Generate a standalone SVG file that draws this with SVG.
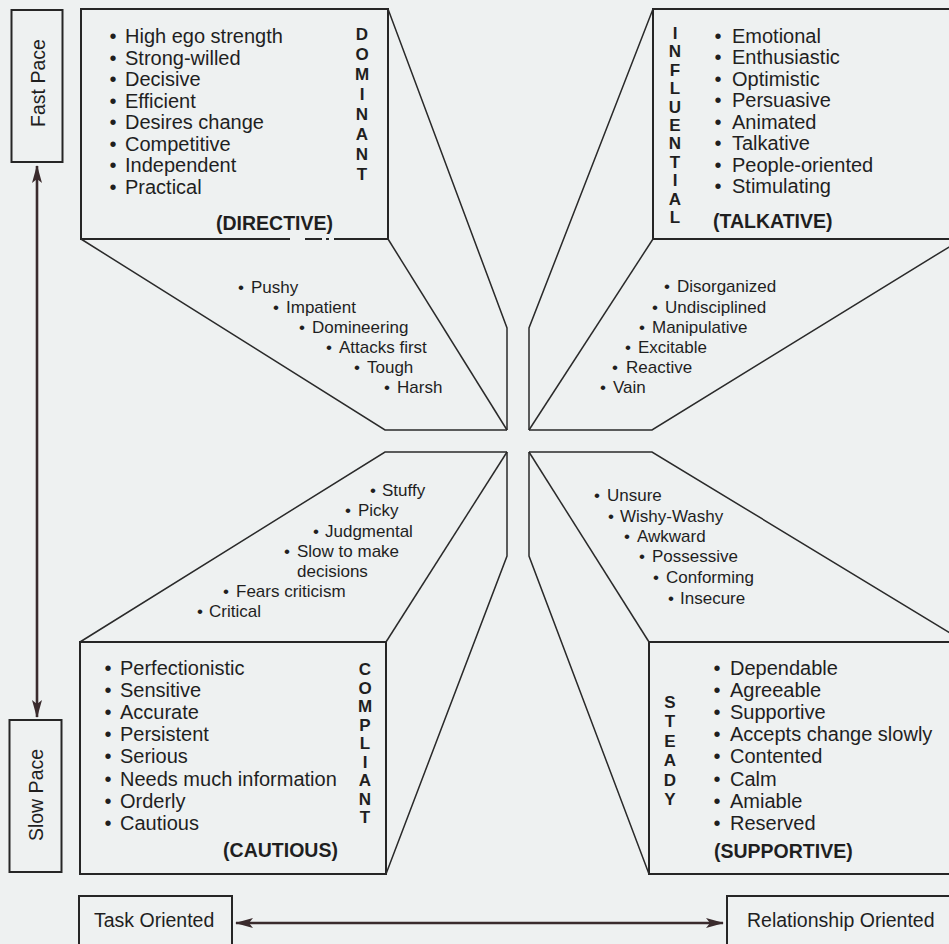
<svg xmlns="http://www.w3.org/2000/svg" width="949" height="944" viewBox="0 0 949 944">
<style>
text{font-family:"Liberation Sans",Arial,Helvetica,sans-serif;fill:#1f1f1f}
.t{font-size:20px}
.m{font-size:17px}
.v{font-size:17px;font-weight:bold;text-anchor:middle}
.lb{font-size:19.5px;font-weight:bold}
.ax{font-size:19.5px}
.box{fill:none;stroke:#262626;stroke-width:2}
.pr{fill:none;stroke:#2a2a2a;stroke-width:1.5;stroke-linejoin:miter}
.arr{stroke:#3a2b2d;stroke-width:2.6;fill:none}
</style>
<defs>
<marker id="ah" viewBox="0 0 18 10" refX="17" refY="5" markerWidth="18" markerHeight="10" markerUnits="userSpaceOnUse" orient="auto-start-reverse">
<path d="M0,0 L18,5 L0,10 L4,5 z" fill="#3a2b2d"/>
</marker>
</defs>
<rect width="949" height="944" fill="#eef1f1"/>

<g id="dominant">
<path class="box" d="M290,239 L81,239 L81,9 L388,9 L388,239 L334,239 M305,239 L322,239 M326,239 L329,239"/>
<polyline class="pr" points="81,239 385,430 507,430"/>
<polyline class="pr" points="388,239 507,430"/>
<polyline class="pr" points="388,9 507,328 507,430"/>
<text class="t" y="43"><tspan x="109.5">•</tspan><tspan x="125">High ego strength</tspan></text>
<text class="t" y="64.5"><tspan x="109.5">•</tspan><tspan x="125">Strong-willed</tspan></text>
<text class="t" y="86"><tspan x="109.5">•</tspan><tspan x="125">Decisive</tspan></text>
<text class="t" y="107.5"><tspan x="109.5">•</tspan><tspan x="125">Efficient</tspan></text>
<text class="t" y="129"><tspan x="109.5">•</tspan><tspan x="125">Desires change</tspan></text>
<text class="t" y="150.5"><tspan x="109.5">•</tspan><tspan x="125">Competitive</tspan></text>
<text class="t" y="172"><tspan x="109.5">•</tspan><tspan x="125">Independent</tspan></text>
<text class="t" y="193.5"><tspan x="109.5">•</tspan><tspan x="125">Practical</tspan></text>
<text class="v" x="362"><tspan x="362" y="39.5">D</tspan><tspan x="362" y="59.6">O</tspan><tspan x="362" y="79.7">M</tspan><tspan x="362" y="99.8">I</tspan><tspan x="362" y="119.9">N</tspan><tspan x="362" y="140">A</tspan><tspan x="362" y="160.1">N</tspan><tspan x="362" y="180.2">T</tspan></text>
<text class="lb" x="274.5" y="230" text-anchor="middle">(DIRECTIVE)</text>
<text class="m" y="293"><tspan x="238">•</tspan><tspan x="251">Pushy</tspan></text>
<text class="m" y="313"><tspan x="273">•</tspan><tspan x="286">Impatient</tspan></text>
<text class="m" y="333"><tspan x="299">•</tspan><tspan x="312">Domineering</tspan></text>
<text class="m" y="353"><tspan x="326">•</tspan><tspan x="339">Attacks first</tspan></text>
<text class="m" y="373"><tspan x="354">•</tspan><tspan x="367">Tough</tspan></text>
<text class="m" y="393"><tspan x="384">•</tspan><tspan x="397">Harsh</tspan></text>
</g>

<g id="influential">
<rect class="box" x="653" y="9" width="320" height="230"/>
<polyline class="pr" points="653,9 529,328 529,430"/>
<polyline class="pr" points="653,239 529,430"/>
<polyline class="pr" points="962,239 652,430 529,430"/>
<text class="t" y="43"><tspan x="714.5">•</tspan><tspan x="732">Emotional</tspan></text>
<text class="t" y="64.4"><tspan x="714.5">•</tspan><tspan x="732">Enthusiastic</tspan></text>
<text class="t" y="85.9"><tspan x="714.5">•</tspan><tspan x="732">Optimistic</tspan></text>
<text class="t" y="107.3"><tspan x="714.5">•</tspan><tspan x="732">Persuasive</tspan></text>
<text class="t" y="128.8"><tspan x="714.5">•</tspan><tspan x="732">Animated</tspan></text>
<text class="t" y="150.2"><tspan x="714.5">•</tspan><tspan x="732">Talkative</tspan></text>
<text class="t" y="171.7"><tspan x="714.5">•</tspan><tspan x="732">People-oriented</tspan></text>
<text class="t" y="193.1"><tspan x="714.5">•</tspan><tspan x="732">Stimulating</tspan></text>
<text class="v"><tspan x="675" y="39">I</tspan><tspan x="675" y="57.4">N</tspan><tspan x="675" y="75.8">F</tspan><tspan x="675" y="94.2">L</tspan><tspan x="675" y="112.6">U</tspan><tspan x="675" y="131">E</tspan><tspan x="675" y="149.4">N</tspan><tspan x="675" y="167.8">T</tspan><tspan x="675" y="186.2">I</tspan><tspan x="675" y="204.6">A</tspan><tspan x="675" y="223">L</tspan></text>
<text class="lb" x="713" y="228">(TALKATIVE)</text>
<text class="m" y="292"><tspan x="664">•</tspan><tspan x="677">Disorganized</tspan></text>
<text class="m" y="313"><tspan x="652">•</tspan><tspan x="665">Undisciplined</tspan></text>
<text class="m" y="333"><tspan x="639">•</tspan><tspan x="652">Manipulative</tspan></text>
<text class="m" y="353"><tspan x="625">•</tspan><tspan x="638">Excitable</tspan></text>
<text class="m" y="373"><tspan x="612">•</tspan><tspan x="626">Reactive</tspan></text>
<text class="m" y="393"><tspan x="600">•</tspan><tspan x="613">Vain</tspan></text>
</g>

<g id="compliant">
<rect class="box" x="80" y="642" width="306" height="232"/>
<polyline class="pr" points="80,642 385,452 507,452"/>
<polyline class="pr" points="386,642 507,452"/>
<polyline class="pr" points="386,874 507,556 507,452"/>
<text class="t" y="675"><tspan x="104.5">•</tspan><tspan x="120">Perfectionistic</tspan></text>
<text class="t" y="697.1"><tspan x="104.5">•</tspan><tspan x="120">Sensitive</tspan></text>
<text class="t" y="719.2"><tspan x="104.5">•</tspan><tspan x="120">Accurate</tspan></text>
<text class="t" y="741.3"><tspan x="104.5">•</tspan><tspan x="120">Persistent</tspan></text>
<text class="t" y="763.4"><tspan x="104.5">•</tspan><tspan x="120">Serious</tspan></text>
<text class="t" y="785.5"><tspan x="104.5">•</tspan><tspan x="120">Needs much information</tspan></text>
<text class="t" y="807.6"><tspan x="104.5">•</tspan><tspan x="120">Orderly</tspan></text>
<text class="t" y="829.7"><tspan x="104.5">•</tspan><tspan x="120">Cautious</tspan></text>
<text class="v"><tspan x="365" y="675">C</tspan><tspan x="365" y="693.5">O</tspan><tspan x="365" y="712">M</tspan><tspan x="365" y="730.5">P</tspan><tspan x="365" y="749">L</tspan><tspan x="365" y="767.5">I</tspan><tspan x="365" y="786">A</tspan><tspan x="365" y="804.5">N</tspan><tspan x="365" y="823">T</tspan></text>
<text class="lb" x="280.5" y="857" text-anchor="middle">(CAUTIOUS)</text>
<text class="m" y="496"><tspan x="370">•</tspan><tspan x="382">Stuffy</tspan></text>
<text class="m" y="516"><tspan x="345">•</tspan><tspan x="358">Picky</tspan></text>
<text class="m" y="537"><tspan x="313">•</tspan><tspan x="325">Judgmental</tspan></text>
<text class="m" y="557"><tspan x="284">•</tspan><tspan x="297">Slow to make</tspan></text>
<text class="m" x="297" y="577">decisions</text>
<text class="m" y="597"><tspan x="223">•</tspan><tspan x="236">Fears criticism</tspan></text>
<text class="m" y="617"><tspan x="197">•</tspan><tspan x="209">Critical</tspan></text>
</g>

<g id="steady">
<rect class="box" x="649" y="642" width="324" height="232"/>
<polyline class="pr" points="965,642 652,452 529,452"/>
<polyline class="pr" points="649,642 529,452"/>
<polyline class="pr" points="649,874 529,556 529,452"/>
<text class="t" y="675"><tspan x="713.5">•</tspan><tspan x="730">Dependable</tspan></text>
<text class="t" y="697.1"><tspan x="713.5">•</tspan><tspan x="730">Agreeable</tspan></text>
<text class="t" y="719.2"><tspan x="713.5">•</tspan><tspan x="730">Supportive</tspan></text>
<text class="t" y="741.3"><tspan x="713.5">•</tspan><tspan x="730">Accepts change slowly</tspan></text>
<text class="t" y="763.4"><tspan x="713.5">•</tspan><tspan x="730">Contented</tspan></text>
<text class="t" y="785.5"><tspan x="713.5">•</tspan><tspan x="730">Calm</tspan></text>
<text class="t" y="807.6"><tspan x="713.5">•</tspan><tspan x="730">Amiable</tspan></text>
<text class="t" y="829.7"><tspan x="713.5">•</tspan><tspan x="730">Reserved</tspan></text>
<text class="v"><tspan x="670" y="708">S</tspan><tspan x="670" y="727.4">T</tspan><tspan x="670" y="746.8">E</tspan><tspan x="670" y="766.2">A</tspan><tspan x="670" y="785.6">D</tspan><tspan x="670" y="805">Y</tspan></text>
<text class="lb" x="714" y="858">(SUPPORTIVE)</text>
<text class="m" y="501"><tspan x="594">•</tspan><tspan x="607">Unsure</tspan></text>
<text class="m" y="522"><tspan x="608">•</tspan><tspan x="620">Wishy-Washy</tspan></text>
<text class="m" y="542"><tspan x="624">•</tspan><tspan x="637">Awkward</tspan></text>
<text class="m" y="562"><tspan x="639">•</tspan><tspan x="652">Possessive</tspan></text>
<text class="m" y="583"><tspan x="653">•</tspan><tspan x="666">Conforming</tspan></text>
<text class="m" y="604"><tspan x="668">•</tspan><tspan x="680">Insecure</tspan></text>
</g>

<g id="fast-pace">
<rect class="box" x="11.5" y="10" width="51" height="152"/>
<text class="ax" transform="translate(45,83) rotate(-90)" text-anchor="middle">Fast Pace</text>
</g>
<g id="slow-pace">
<rect class="box" x="9.5" y="720" width="52" height="152"/>
<text class="ax" transform="translate(43,795) rotate(-90)" text-anchor="middle">Slow Pace</text>
</g>
<g id="task-oriented">
<rect class="box" x="79" y="896" width="153" height="60"/>
<text class="ax" x="94" y="927">Task Oriented</text>
</g>
<g id="relationship-oriented">
<rect class="box" x="727" y="896" width="240" height="60"/>
<text class="ax" x="747" y="927">Relationship Oriented</text>
</g>

<g id="connectors">
<line class="arr" x1="37" y1="166" x2="37" y2="717" marker-start="url(#ah)" marker-end="url(#ah)"/>
<line class="arr" x1="236" y1="923" x2="723" y2="923" marker-start="url(#ah)" marker-end="url(#ah)"/>
</g>
</svg>
